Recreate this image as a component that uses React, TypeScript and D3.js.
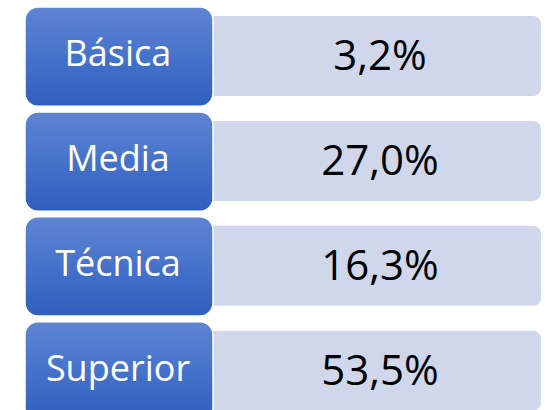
import React from "react";
import * as d3 from "d3";

const categories = ["Básica", "Media", "Técnica", "Superior"];
const values = [3.2, 27.0, 16.3, 53.5];

const W = 545;
const H = 410;

export default function App() {
  const y = d3
    .scaleBand<string>()
    .domain(categories)
    .range([7, 7 + 103.5 * 4])
    .paddingInner(0.053)
    .paddingOuter(0);
  const fmt = (v: number) => d3.format(".1f")(v).replace(".", ",") + "%";
  const bw = y.bandwidth();
  return (
    <svg
      width={W}
      height={H}
      style={{ position: "absolute", left: 0, top: 0, display: "block" }}
    >
      <defs>
        <linearGradient id="blueGrad" x1="0" y1="0" x2="0" y2="1">
          <stop offset="0%" stopColor="#5e85d3" />
          <stop offset="55%" stopColor="#4370c9" />
          <stop offset="100%" stopColor="#2f5fbd" />
        </linearGradient>
      </defs>
      {categories.map((c, i) => {
        const y0 = y(c)!;
        return (
          <g key={c}>
            <rect
              x={205}
              y={y0 + 9}
              width={336}
              height={80}
              rx={8}
              fill="#d0d7ea"
            />
            <text
              x={380}
              y={y0 + 63}
              textAnchor="middle"
              fontFamily="'Open Sans', 'Noto Sans', sans-serif"
              fontSize={42}
              fill="#000"
            >
              {fmt(values[i])}
            </text>
            <rect
              x={25}
              y={y0}
              width={188}
              height={bw}
              rx={13}
              fill="url(#blueGrad)"
              stroke="#ffffff"
              strokeWidth={1.5}
            />
            <text
              x={118}
              y={y0 + 59}
              textAnchor="middle"
              fontFamily="'Open Sans', 'Noto Sans', sans-serif"
              fontSize={36}
              fill="#ffffff"
            >
              {c}
            </text>
          </g>
        );
      })}
    </svg>
  );
}
